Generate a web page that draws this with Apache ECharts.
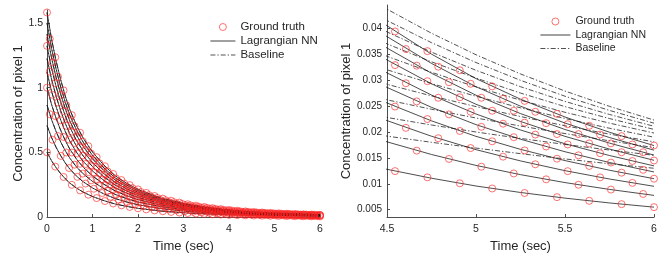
<!DOCTYPE html>
<html><head><meta charset="utf-8">
<script src="https://cdn.jsdelivr.net/npm/echarts@6/dist/echarts.min.js"></script>
<style>html,body{margin:0;padding:0;background:#fff}#c{width:664px;height:258px}</style>
</head><body><div id="c"></div>
<script>
// marker sample times (three staggered sets)
const tA = [0,0.182,0.364,0.545,0.727,0.909,1.091,1.273,1.455,1.636,1.818,2,2.182,2.364,2.545,2.727,2.909,3.091,3.273,3.455,3.636,3.818,4,4.182,4.364,4.545,4.727,4.909,5.091,5.273,5.455,5.636,5.818,6];
const tB = [0.061,0.242,0.424,0.606,0.788,0.97,1.152,1.333,1.515,1.697,1.879,2.061,2.242,2.424,2.606,2.788,2.97,3.152,3.333,3.515,3.697,3.879,4.061,4.242,4.424,4.606,4.788,4.97,5.152,5.333,5.515,5.697,5.879];
const tC = [0.121,0.303,0.485,0.667,0.848,1.03,1.212,1.394,1.576,1.758,1.939,2.121,2.303,2.485,2.667,2.848,3.03,3.212,3.394,3.576,3.758,3.939,4.121,4.303,4.485,4.667,4.848,5.03,5.212,5.394,5.576,5.758,5.939];

// ground truth (red circles)
const gt1 = [0.5,0.390,0.310,0.249,0.206,0.173,0.147,0.124,0.105,0.0905,0.0783,0.0677,0.0592,0.0517,0.0453,0.0401,0.0354,0.0314,0.0279,0.0248,0.0219,0.0195,0.0174,0.0156,0.0139,0.01245,0.01125,0.0101,0.0091,0.00823,0.00743,0.00672,0.00608,0.0055];
const gt2 = [0.597,0.473,0.379,0.311,0.259,0.219,0.186,0.157,0.134,0.116,0.100,0.0875,0.0765,0.0669,0.0590,0.0521,0.0461,0.0410,0.0364,0.0324,0.0286,0.0255,0.0228,0.0204,0.0182,0.0164,0.0148,0.0133,0.0120,0.01087,0.00982,0.00889,0.00804];
const gt3 = [0.795,0.626,0.499,0.405,0.336,0.284,0.240,0.204,0.173,0.149,0.129,0.112,0.0979,0.0856,0.0753,0.0665,0.0588,0.0522,0.0464,0.0412,0.0365,0.0325,0.0290,0.0258,0.0232,0.0208,0.0188,0.0169,0.01524,0.01377,0.01244,0.01125,0.01018];
const gt4 = [1,0.781,0.619,0.499,0.412,0.347,0.293,0.248,0.210,0.181,0.1565,0.1353,0.1183,0.1034,0.0906,0.0801,0.0708,0.0627,0.0557,0.0495,0.0437,0.0389,0.0347,0.0312,0.0278,0.0249,0.0225,0.0202,0.0182,0.01645,0.01485,0.01344,0.01215,0.01099];
const gt5 = [0.945,0.748,0.599,0.491,0.410,0.346,0.293,0.249,0.213,0.184,0.159,0.1383,0.1210,0.1058,0.0932,0.0824,0.0729,0.0648,0.0576,0.0512,0.0453,0.0404,0.0361,0.0323,0.0288,0.0259,0.0234,0.0210,0.0190,0.0172,0.0155,0.0141,0.0127];
const gt6 = [1.124,0.885,0.705,0.573,0.476,0.401,0.339,0.288,0.244,0.211,0.183,0.1585,0.1385,0.1211,0.1065,0.0941,0.0832,0.0738,0.0656,0.0583,0.0516,0.0459,0.0410,0.0365,0.0328,0.0294,0.0266,0.0239,0.0216,0.0195,0.0176,0.0159,0.0144];
const gt7 = [1.323,1.033,0.819,0.660,0.545,0.459,0.388,0.329,0.278,0.239,0.207,0.179,0.1565,0.1368,0.1199,0.1060,0.0937,0.0830,0.0737,0.0655,0.0578,0.0515,0.0459,0.0413,0.0368,0.0329,0.0298,0.0267,0.0241,0.0218,0.0196,0.0178,0.0161,0.0145];
const gt8 = [1.195,0.946,0.758,0.621,0.519,0.438,0.371,0.314,0.269,0.232,0.201,0.175,0.153,0.134,0.118,0.104,0.0922,0.0820,0.0728,0.0648,0.0573,0.0511,0.0457,0.0409,0.0365,0.0328,0.0296,0.0266,0.0241,0.0217,0.0196,0.0178,0.0161];
const gt9 = [1.377,1.084,0.864,0.702,0.583,0.491,0.416,0.353,0.299,0.259,0.224,0.194,0.170,0.148,0.1305,0.1152,0.1019,0.0905,0.0804,0.0714,0.0632,0.0563,0.0503,0.0447,0.0402,0.0360,0.0326,0.0293,0.0264,0.0239,0.0215,0.0195,0.0176];
const gt10 = [1.581,1.235,0.979,0.788,0.652,0.548,0.463,0.393,0.333,0.286,0.247,0.214,0.187,0.163,0.143,0.1266,0.1119,0.0991,0.0881,0.0783,0.0691,0.0615,0.0549,0.0493,0.0440,0.0394,0.0356,0.0319,0.0288,0.0260,0.0235,0.0212,0.0192,0.0174];

// line sample times
const tLine = [0,0.1,0.2,0.3,0.4,0.5,0.65,0.8,1,1.25,1.5,1.75,2,2.5,3,3.5,4,4.25,4.5,4.75,5,5.25,5.5,5.75,6];

// Lagrangian NN (solid)
const nn1 = [0.5,0.435,0.382,0.336,0.297,0.263,0.224,0.192,0.159,0.127,0.101,0.0827,0.0677,0.0468,0.0333,0.0241,0.0174,0.01487,0.0128,0.01108,0.00958,0.00833,0.00724,0.00631,0.0055];
const nn2 = [0.707,0.615,0.539,0.475,0.419,0.372,0.316,0.272,0.225,0.179,0.143,0.117,0.0957,0.0661,0.047,0.034,0.0245,0.02103,0.0181,0.01566,0.01355,0.01177,0.01024,0.00892,0.00777];
const nn3 = [0.866,0.753,0.661,0.581,0.514,0.456,0.387,0.333,0.276,0.220,0.175,0.143,0.117,0.081,0.0576,0.0417,0.0301,0.02575,0.0222,0.01918,0.01659,0.01442,0.01254,0.01093,0.00952];
const nn4 = [1,0.870,0.763,0.671,0.593,0.526,0.447,0.384,0.318,0.254,0.202,0.165,0.135,0.0935,0.0665,0.0481,0.0347,0.02974,0.0256,0.02215,0.01916,0.01665,0.01448,0.01262,0.01099];
const nn5 = [1.118,0.972,0.853,0.751,0.663,0.588,0.500,0.429,0.356,0.283,0.226,0.185,0.151,0.1045,0.0743,0.0538,0.0388,0.03325,0.0286,0.02476,0.02142,0.01861,0.01619,0.01411,0.01229];
const nn6 = [1.225,1.065,0.934,0.822,0.726,0.644,0.547,0.470,0.390,0.311,0.247,0.202,0.166,0.1145,0.0814,0.0589,0.0425,0.03642,0.0314,0.02713,0.02347,0.02039,0.01773,0.01546,0.01346];
const nn7 = [1.323,1.150,1.009,0.888,0.784,0.696,0.591,0.508,0.421,0.335,0.267,0.219,0.179,0.1237,0.088,0.0636,0.0459,0.03934,0.0339,0.0293,0.02535,0.02203,0.01916,0.0167,0.01454];
const nn8 = [1.414,1.230,1.079,0.950,0.839,0.744,0.632,0.543,0.450,0.359,0.286,0.234,0.191,0.1322,0.094,0.068,0.0491,0.04206,0.0362,0.03133,0.0271,0.02355,0.02048,0.01785,0.01554];
const nn9 = [1.5,1.304,1.144,1.007,0.889,0.789,0.671,0.576,0.477,0.380,0.303,0.248,0.203,0.1403,0.0998,0.0722,0.0521,0.04461,0.0384,0.03323,0.02874,0.02498,0.02172,0.01893,0.01649];
const nn10 = [1.581,1.375,1.206,1.062,0.937,0.832,0.707,0.607,0.503,0.401,0.319,0.261,0.214,0.1478,0.1051,0.076,0.0549,0.04702,0.0405,0.03502,0.0303,0.02633,0.02289,0.01995,0.01738];

// Baseline (dash-dot)
const bl1 = [0.5,0.435,0.382,0.336,0.297,0.263,0.224,0.192,0.159,0.127,0.101,0.0827,0.0677,0.0468,0.0343,0.0271,0.0222,0.02065,0.0192,0.01801,0.0169,0.01582,0.0148,0.01387,0.0130];
const bl2 = [0.707,0.615,0.539,0.475,0.419,0.372,0.316,0.272,0.225,0.179,0.143,0.117,0.0957,0.0661,0.0478,0.0362,0.0280,0.02527,0.0228,0.02135,0.0200,0.01876,0.0176,0.01652,0.0155];
const bl3 = [0.866,0.753,0.661,0.581,0.514,0.456,0.387,0.333,0.276,0.220,0.175,0.143,0.117,0.081,0.0582,0.0436,0.0331,0.02945,0.0262,0.02439,0.0227,0.02115,0.0197,0.0183,0.0170];
const bl4 = [1,0.870,0.763,0.671,0.593,0.526,0.447,0.384,0.318,0.254,0.202,0.165,0.135,0.0935,0.0670,0.0498,0.0374,0.03305,0.0292,0.02696,0.0249,0.02298,0.0212,0.01959,0.0181];
const bl5 = [1.118,0.972,0.853,0.751,0.663,0.588,0.500,0.429,0.356,0.283,0.226,0.185,0.151,0.1045,0.0748,0.0554,0.0413,0.03635,0.0320,0.02934,0.0269,0.02466,0.0226,0.02072,0.0190];
const bl6 = [1.225,1.065,0.934,0.822,0.726,0.644,0.547,0.470,0.390,0.311,0.247,0.202,0.166,0.1145,0.0819,0.0604,0.0449,0.03941,0.0346,0.03151,0.0287,0.02614,0.0238,0.02171,0.0198];
const bl7 = [1.323,1.150,1.009,0.888,0.784,0.696,0.591,0.508,0.421,0.335,0.267,0.219,0.179,0.1237,0.0885,0.0651,0.0482,0.04223,0.0370,0.03354,0.0304,0.02751,0.0249,0.02259,0.0205];
const bl8 = [1.414,1.230,1.079,0.950,0.839,0.744,0.632,0.543,0.450,0.359,0.286,0.234,0.191,0.1322,0.0945,0.0695,0.0514,0.04495,0.0393,0.03541,0.0319,0.02874,0.0259,0.02338,0.0211];
const bl9 = [1.5,1.304,1.144,1.007,0.889,0.789,0.671,0.576,0.477,0.380,0.303,0.248,0.203,0.1403,0.1003,0.0736,0.0544,0.04751,0.0415,0.03723,0.0334,0.02997,0.0269,0.02416,0.0217];
const bl10 = [1.581,1.375,1.206,1.062,0.937,0.832,0.707,0.607,0.503,0.401,0.319,0.261,0.214,0.1478,0.1056,0.0775,0.0573,0.05004,0.0437,0.03905,0.0349,0.0312,0.0279,0.02494,0.0223];

// tick labels
const xTicksLeft = [0,1,2,3,4,5,6];
const yTicksLeft = [0,0.5,1,1.5];
const xTicksRight = [4.5,5,5.5,6];
const yTicksRight = [0.005,0.01,0.015,0.02,0.025,0.03,0.035,0.04];
const legendNames = ['Ground truth','Lagrangian NN','Baseline'];
const xTitle = 'Time (sec)';
const yTitle = 'Concentration of pixel 1';

const gtList = [gt1,gt2,gt3,gt4,gt5,gt6,gt7,gt8,gt9,gt10];
const gtTimes = [tA,tC,tB,tA,tC,tB,tA,tC,tB,tA];
const nnList = [nn1,nn2,nn3,nn4,nn5,nn6,nn7,nn8,nn9,nn10];
const blList = [bl1,bl2,bl3,bl4,bl5,bl6,bl7,bl8,bl9,bl10];

const FONT = 'Liberation Sans, Arial, Helvetica, sans-serif';
const TXT = '#262626';
const AX = '#4d4d4d';
const CLEAR = 'rgba(0,0,0,0)';

function xAxis(grid, min, max, interval, ticks) {
  return {
    type: 'value', gridIndex: grid, min: min, max: max, interval: interval,
    name: xTitle, nameLocation: 'middle', nameGap: 21,
    nameTextStyle: {fontSize: 13, color: TXT, fontFamily: FONT},
    axisLine: {show: true, lineStyle: {color: AX, width: 1}},
    axisTick: {show: true, inside: true, length: 3, lineStyle: {color: AX}, customValues: ticks},
    axisLabel: {fontSize: 10.5, color: TXT, fontFamily: FONT, margin: 7, customValues: ticks},
    splitLine: {show: false}
  };
}
function yAxis(grid, min, max, ticks, gap, margin, fs) {
  return {
    type: 'value', gridIndex: grid, min: min, max: max,
    name: yTitle, nameLocation: 'middle', nameGap: gap,
    nameTextStyle: {fontSize: 13, color: TXT, fontFamily: FONT},
    axisLine: {show: true, onZero: false, lineStyle: {color: AX, width: 1}},
    axisTick: {show: true, inside: true, length: 3, lineStyle: {color: AX}, customValues: ticks},
    axisLabel: {fontSize: fs, color: TXT, fontFamily: FONT, margin: margin, customValues: ticks},
    splitLine: {show: false}
  };
}

const series = [];
for (let g = 0; g < 2; g++) {
  for (let k = 0; k < 10; k++) {
    series.push({
      type: 'line', name: legendNames[2], xAxisIndex: g, yAxisIndex: g,
      data: tLine.map((t, i) => [t, blList[k][i]]),
      smooth: false, symbol: 'none', clip: true, z: 2,
      itemStyle: {color: CLEAR, borderColor: CLEAR},
      lineStyle: {color: '#262626', width: 0.8, type: [5, 2, 1.3, 2]}
    });
  }
  for (let k = 0; k < 10; k++) {
    series.push({
      type: 'line', name: legendNames[1], xAxisIndex: g, yAxisIndex: g,
      data: tLine.map((t, i) => [t, nnList[k][i]]),
      smooth: false, symbol: 'none', clip: true, z: 3,
      itemStyle: {color: CLEAR, borderColor: CLEAR},
      lineStyle: {color: '#111', width: 0.75}
    });
  }
  for (let k = 0; k < 10; k++) {
    series.push({
      type: 'scatter', name: legendNames[0], xAxisIndex: g, yAxisIndex: g,
      data: gtTimes[k].map((t, i) => [t, gtList[k][i]]),
      symbol: 'circle', symbolSize: 7, clip: true, z: 4,
      itemStyle: {color: CLEAR, borderColor: '#ff2020', borderWidth: 0.8}
    });
  }
}

function legend(left, top, w, fs, gap) {
  return {
    orient: 'vertical', left: left, top: top, padding: 0, selectedMode: false,
    itemWidth: w, itemHeight: 7, itemGap: gap,
    lineStyle: {width: 0.8},
    data: [
      {name: legendNames[0], itemStyle: {borderWidth: 0.8, color: CLEAR, borderColor: '#ff2020'}},
      {name: legendNames[1], itemStyle: {opacity: 0}},
      {name: legendNames[2], itemStyle: {opacity: 0}}
    ],
    textStyle: {fontSize: fs, color: TXT, fontFamily: FONT}
  };
}

const chart = echarts.init(document.getElementById('c'), null, {renderer: 'canvas'});
chart.setOption({
  animation: false,
  backgroundColor: '#fff',
  grid: [
    {left: 47, right: 344, top: 10, bottom: 35},
    {left: 387, right: 10, top: 5, bottom: 35}
  ],
  xAxis: [xAxis(0, 0, 6, 1, xTicksLeft), xAxis(1, 4.5, 6, 0.5, xTicksRight)],
  yAxis: [yAxis(0, 0, 1.6, yTicksLeft, 22, 4, 10.5), yAxis(1, 0.00358, 0.0445, yTicksRight, 34, 5, 10)],
  legend: [legend(210, 21, 25, 11.5, 2), legend(540, 16, 30, 10.5, 2.5)],
  series: series
});
</script>
</body></html>
